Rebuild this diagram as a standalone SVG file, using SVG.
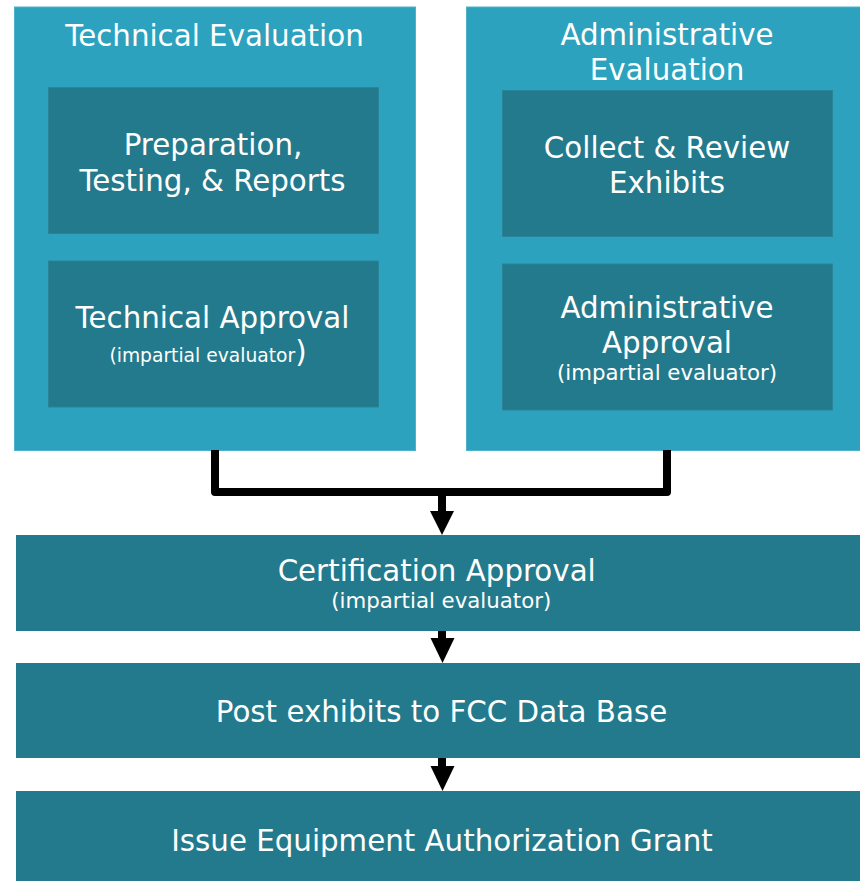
<svg xmlns="http://www.w3.org/2000/svg" width="860" height="881" viewBox="0 0 860 881">
  <defs>
    <style>
      .outer { fill: #2ca2be; stroke: #4fb2ca; stroke-width: 1; }
      .inner { fill: #237a8c; stroke: #2a8396; stroke-width: 1; }
      .step { fill: #237a8c; }
      text { font-family: "DejaVu Sans", "Liberation Sans", sans-serif; fill: #ffffff; text-anchor: middle; }
      .t { font-size: 29.3px; }
      .s { font-size: 21.3px; }
      .ss { font-size: 18.7px; }
      .wire { fill: none; stroke: #000000; stroke-width: 8; stroke-linejoin: round; stroke-linecap: butt; }
      .stem { fill: none; stroke: #000000; stroke-width: 8; }
      .head { fill: #000000; }
    </style>
  </defs>

  <rect width="860" height="881" fill="#ffffff"/>

  <!-- Technical evaluation column -->
  <g id="technical-evaluation">
    <rect class="outer" x="14.5" y="7" width="401" height="443.5"/>
    <text class="t" x="214.5" y="45.5">Technical Evaluation</text>
  </g>
  <g id="preparation-testing-reports">
    <rect class="inner" x="48.5" y="87.5" width="330" height="146"/>
    <text class="t" x="213" y="155">Preparation,</text>
    <text class="t" x="212.5" y="190.5">Testing, &amp; Reports</text>
  </g>
  <g id="technical-approval">
    <rect class="inner" x="48.5" y="261" width="330" height="146"/>
    <text class="t" x="212.5" y="328">Technical Approval</text>
    <text x="208" y="361.5"><tspan class="ss">(impartial evaluator</tspan><tspan class="t">)</tspan></text>
  </g>

  <!-- Administrative evaluation column -->
  <g id="administrative-evaluation">
    <rect class="outer" x="466.5" y="7" width="400" height="443.5"/>
    <text class="t" x="667" y="45">Administrative</text>
    <text class="t" x="667" y="80">Evaluation</text>
  </g>
  <g id="collect-review-exhibits">
    <rect class="inner" x="502.5" y="90.5" width="330" height="146"/>
    <text class="t" x="667" y="157.5">Collect &amp; Review</text>
    <text class="t" x="667" y="193">Exhibits</text>
  </g>
  <g id="administrative-approval">
    <rect class="inner" x="502.5" y="264" width="330" height="146"/>
    <text class="t" x="667" y="317.5">Administrative</text>
    <text class="t" x="667" y="352.5">Approval</text>
    <text class="s" x="667" y="380">(impartial evaluator)</text>
  </g>

  <!-- Sequential steps -->
  <g id="certification-approval">
    <rect class="step" x="16" y="535" width="850" height="96"/>
    <text class="t" x="436.7" y="580.5">Certification Approval</text>
    <text class="s" x="441.3" y="607.5">(impartial evaluator)</text>
  </g>
  <g id="post-exhibits">
    <rect class="step" x="16" y="663" width="850" height="95"/>
    <text class="t" x="441.5" y="722.3">Post exhibits to FCC Data Base</text>
  </g>
  <g id="issue-grant">
    <rect class="step" x="16" y="791" width="850" height="95"/>
    <text class="t" x="442" y="850.7">Issue Equipment Authorization Grant</text>
  </g>

  <!-- Connectors -->
  <g id="connectors">
    <path class="wire" d="M215,450 V492 H667 V450"/>
    <path class="stem" d="M442,492 V512"/>
    <polygon class="head" points="430,511 454,511 442,535"/>
    <path class="stem" d="M442,631 V640"/>
    <polygon class="head" points="430.5,638 454.5,638 442.5,663"/>
    <path class="stem" d="M442,758 V768"/>
    <polygon class="head" points="430.5,766 454.5,766 442.5,791"/>
  </g>
</svg>
